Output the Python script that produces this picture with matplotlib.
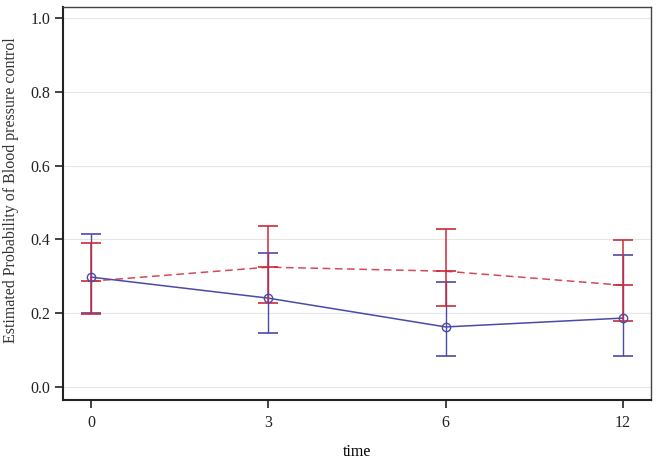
import matplotlib
matplotlib.use("Agg")
import matplotlib.pyplot as plt
import numpy as np

plt.rcParams['font.family'] = ['Liberation Serif', 'DejaVu Serif']

time_labels = ["0", "3", "6", "12"]
blue_est = [0.298, 0.241, 0.163, 0.187]
blue_lo = [0.200, 0.146, 0.084, 0.084]
blue_hi = [0.415, 0.363, 0.285, 0.358]
red_est = [0.287, 0.325, 0.314, 0.276]
red_lo = [0.198, 0.228, 0.220, 0.179]
red_hi = [0.390, 0.436, 0.428, 0.398]

blue = "#4a4aa8"
red = "#cc2a3a"

fig = plt.figure(figsize=(6.56, 4.63), dpi=100)
ax = fig.add_axes([63/656, 63/463, 588/656, 393/463])

x = np.arange(len(time_labels))

for yv in [0.0, 0.2, 0.4, 0.6, 0.8, 1.0]:
    ax.axhline(yv, color="#e6e6e6", lw=0.8, zorder=0)

# red
ax.plot(x, red_est, color=red, ls=(0, (5, 3)), lw=1.1, alpha=0.85, zorder=2)
ax.errorbar(x, red_est, yerr=[np.array(red_est) - np.array(red_lo), np.array(red_hi) - np.array(red_est)],
            fmt='none', ecolor=red, elinewidth=1.1, capsize=7, capthick=1.2, zorder=3)
ax.plot(x, red_est, ls='none', marker='_', ms=14, mew=1.2, color=red, zorder=3)

# blue
ax.plot(x, blue_est, color=blue, lw=1.1, zorder=2)
ax.errorbar(x, blue_est, yerr=[np.array(blue_est) - np.array(blue_lo), np.array(blue_hi) - np.array(blue_est)],
            fmt='none', ecolor=blue, elinewidth=1.0, capsize=7, capthick=1.2, zorder=2.5)
ax.plot(x, blue_est, ls='none', marker='o', ms=6, mfc='none', mec=blue, mew=1.0, zorder=4)

ax.set_xlim(-0.158, 3.158)
ax.set_ylim(-0.035, 1.03)
ax.set_xticks(x)
ax.set_xticklabels(time_labels)
ax.set_yticks([0.0, 0.2, 0.4, 0.6, 0.8, 1.0])
ax.set_yticklabels(["0.0", "0.2", "0.4", "0.6", "0.8", "1.0"])

for s in ['left', 'bottom']:
    ax.spines[s].set_linewidth(1.5)
    ax.spines[s].set_color("#222222")
for s in ['top', 'right']:
    ax.spines[s].set_linewidth(1.0)
    ax.spines[s].set_color("#444444")

ax.tick_params(axis='both', direction='out', length=6, width=1.2, colors="#222222",
               labelsize=11.5, pad=5)
ax.tick_params(axis='y', pad=3)

ax.set_xlabel("time", fontsize=11.5)
ax.xaxis.set_label_coords(0.5, -0.112)
ax.set_ylabel("Estimated Probability of Blood pressure control", fontsize=11.5, color="#333333")
ax.yaxis.set_label_coords(-0.074, 0.535)

fig.savefig("out.png", dpi=100)
